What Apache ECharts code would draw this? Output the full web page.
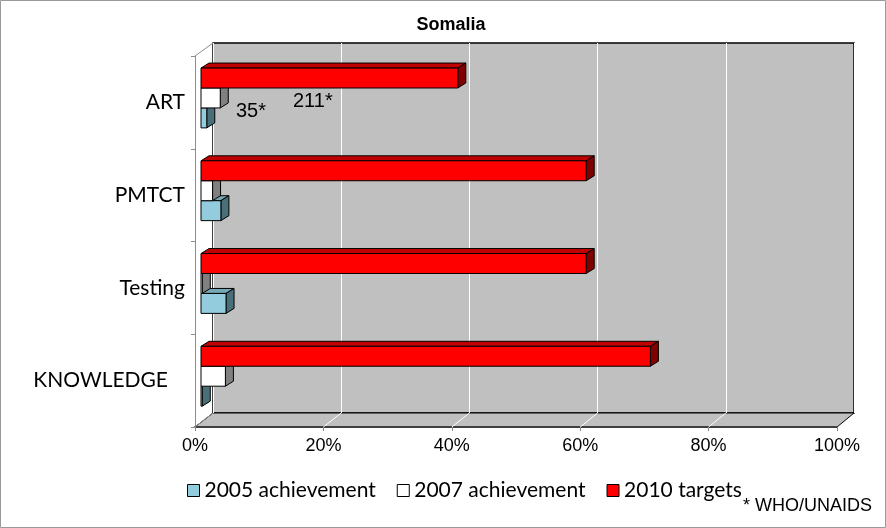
<!DOCTYPE html>
<html>
<head>
<meta charset="utf-8">
<script src="https://cdn.jsdelivr.net/npm/echarts@6/dist/echarts.min.js"></script>
<style>
  html, body { margin: 0; padding: 0; background: #fff; }
  #main { width: 886px; height: 528px; }
</style>
</head>
<body>
<div id="main"></div>
<script>
// values, bottom category first
const categories = ['KNOWLEDGE', 'Testing', 'PMTCT', 'ART'];
const achieved2005 = [0.2, 3.9, 3.1, 0.9];
const achieved2007 = [3.8, 0.2, 1.8, 3.0];
const targets2010 = [70, 60, 60, 40];
const seriesNames = ['2005 achievement', '2007 achievement', '2010 targets'];
const notes = ['35*', '211*'];

const chart = echarts.init(document.getElementById('main'));

// fake 3d bar: front face, top face and right side
function barRenderer(pos, colors) {
    return function (params, api) {
        const cat = api.value(1);
        const base = api.coord([0, cat]);
        const end = api.coord([api.value(0), cat]);
        const band = api.size([0, 1])[1];
        const h = band * 0.215;
        const top = base[1] - band / 2 + band * 0.13 + pos * h;
        const x0 = base[0], x1 = end[0];
        const dx = 8, dy = 5;
        const edge = { stroke: '#000', lineWidth: 1 };
        return {
            type: 'group',
            children: [
                { type: 'polygon', shape: { points: [[x0, top], [x0 + dx, top - dy], [x1 + dx, top - dy], [x1, top]] },
                  style: Object.assign({ fill: colors.top }, edge) },
                { type: 'polygon', shape: { points: [[x1, top], [x1 + dx, top - dy], [x1 + dx, top + h - dy], [x1, top + h]] },
                  style: Object.assign({ fill: colors.side }, edge) },
                { type: 'rect', shape: { x: x0, y: top, width: x1 - x0, height: h },
                  style: Object.assign({ fill: colors.front }, edge) }
            ]
        };
    };
}

const blue = { front: '#93CDDD', top: '#76A7B5', side: '#4A6F78' };
const white = { front: '#FFFFFF', top: '#D9D9D9', side: '#808080' };
const red = { front: '#FF0000', top: '#C00000', side: '#800000' };

// floor + left wall decoration (back wall is grid 0, front is grid 1)
const floorLines = [];
[20, 40, 60, 80].forEach(function (p) {
    const bx = 213 + p * 6.41;
    const fx = 195 + p * 6.42;
    floorLines.push({ type: 'line', shape: { x1: bx, y1: 413, x2: fx, y2: 427 }, style: { stroke: '#fff', lineWidth: 1 }, z: 1 });
});

const option = {
    animation: false,
    title: {
        text: 'Somalia',
        left: 451,
        textAlign: 'center',
        top: 16,
        padding: 0,
        textStyle: { fontFamily: 'Liberation Sans', fontSize: 18, fontWeight: 'bold', color: '#000' }
    },
    legend: {
        data: seriesNames.map(function (n, i) {
            return { name: n, itemStyle: { color: [blue.front, white.front, red.front][i], borderColor: '#000', borderWidth: 1 } };
        }),
        icon: 'rect',
        left: 187,
        top: 480,
        padding: 0,
        itemWidth: 12,
        itemHeight: 12,
        itemGap: 21,
        textStyle: { fontFamily: 'Lato', fontSize: 21, color: '#000' }
    },
    grid: [
        { left: 213, right: 32, top: 43, bottom: 115, show: true, backgroundColor: '#C0C0C0', borderColor: '#000', borderWidth: 1.5 },
        { left: 195, right: 49, top: 56, bottom: 101 },
        { left: 201, right: 43, top: 56, bottom: 101 }
    ],
    xAxis: [
        { gridIndex: 0, type: 'value', min: 0, max: 100, interval: 20,
          axisLine: { show: false }, axisTick: { show: false }, axisLabel: { show: false },
          splitLine: { show: true, lineStyle: { color: '#fff', width: 1 } } },
        { gridIndex: 1, type: 'value', min: 0, max: 100, interval: 20,
          axisLine: { show: true, lineStyle: { color: '#404040', width: 2 } },
          axisTick: { show: true, length: 4, lineStyle: { color: '#888' } },
          splitLine: { show: false },
          axisLabel: { formatter: '{value}%', margin: 10, fontFamily: 'Liberation Sans', fontSize: 18, color: '#000' } },
        { gridIndex: 2, type: 'value', min: 0, max: 100, show: false }
    ],
    yAxis: [
        { gridIndex: 0, type: 'category', data: categories, show: false },
        { gridIndex: 1, type: 'category', data: categories,
          axisLine: { show: true, lineStyle: { color: '#8c8c8c' } },
          axisTick: { show: true, length: 4, lineStyle: { color: '#8c8c8c' } },
          axisLabel: {
              margin: 10,
              fontFamily: 'Lato', fontSize: 21, color: '#000',
              formatter: function (v) { return v === 'KNOWLEDGE' ? '{k|' + v + '}' : v; },
              rich: { k: { fontFamily: 'Lato', fontSize: 21, color: '#000', padding: [0, 17, 0, 0] } }
          } },
        { gridIndex: 2, type: 'category', data: categories, show: false }
    ],
    graphic: [
        { type: 'polygon', shape: { points: [[213, 413], [854, 413], [837, 427], [195, 427]] },
          style: { fill: '#C0C0C0', stroke: '#000', lineWidth: 1 }, z: 0 },
        ...floorLines,
        { type: 'line', shape: { x1: 195, y1: 56, x2: 213, y2: 43 }, style: { stroke: '#8c8c8c', lineWidth: 1 }, z: 1 },
        { type: 'line', shape: { x1: 195, y1: 427, x2: 213, y2: 413 }, style: { stroke: '#8c8c8c', lineWidth: 1 }, z: 1 },
        { type: 'text', left: 236, top: 101, z: 10,
          style: { text: notes[0], fontFamily: 'Liberation Sans', fontSize: 20, fill: '#000' } },
        { type: 'text', left: 293, top: 91, z: 10,
          style: { text: notes[1], fontFamily: 'Liberation Sans', fontSize: 20, fill: '#000' } },
        { type: 'text', right: 14, top: 497, z: 10,
          style: { text: '* WHO/UNAIDS', fontFamily: 'Liberation Sans', fontSize: 18, fill: '#000' } },
        { type: 'rect', shape: { x: 0.5, y: 0.5, width: 885, height: 527 },
          style: { fill: 'none', stroke: '#999', lineWidth: 1 }, z: 0 }
    ],
    series: [
        { name: seriesNames[0], type: 'custom', xAxisIndex: 2, yAxisIndex: 2, clip: false,
          itemStyle: { color: blue.front },
          renderItem: barRenderer(2, blue),
          encode: { x: 0, y: 1 },
          data: achieved2005.map(function (v, i) { return [v, i]; }) },
        { name: seriesNames[1], type: 'custom', xAxisIndex: 2, yAxisIndex: 2, clip: false,
          itemStyle: { color: white.front },
          renderItem: barRenderer(1, white),
          encode: { x: 0, y: 1 },
          data: achieved2007.map(function (v, i) { return [v, i]; }) },
        { name: seriesNames[2], type: 'custom', xAxisIndex: 2, yAxisIndex: 2, clip: false,
          itemStyle: { color: red.front },
          renderItem: barRenderer(0, red),
          encode: { x: 0, y: 1 },
          data: targets2010.map(function (v, i) { return [v, i]; }) }
    ]
};

chart.setOption(option);
</script>
</body>
</html>
